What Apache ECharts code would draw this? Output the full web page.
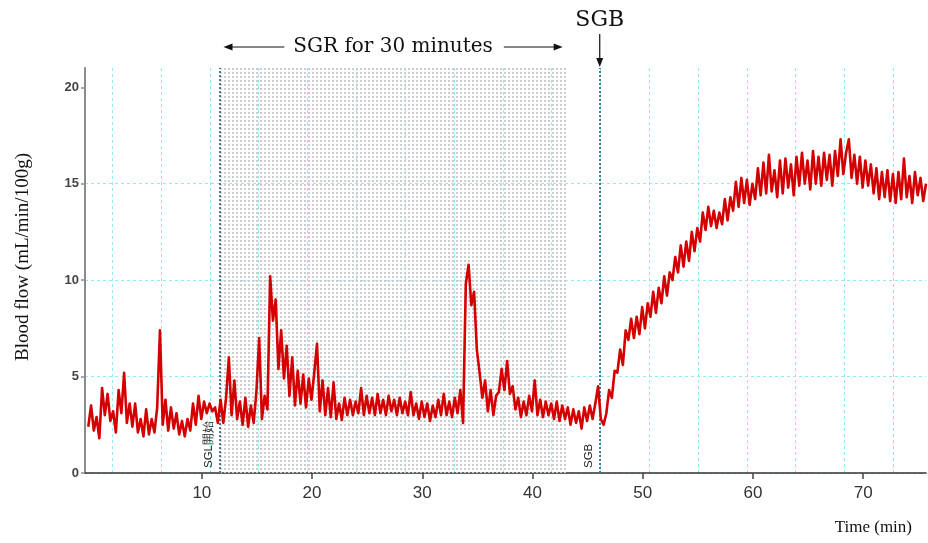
<!DOCTYPE html>
<html><head><meta charset="utf-8">
<script src="https://cdn.jsdelivr.net/npm/echarts@6/dist/echarts.min.js"></script>
<style>html,body{margin:0;padding:0;background:#fff}#c{width:928px;height:543px}</style>
</head><body><div id="c"></div>
<script>
// sampling of the recorded trace (minutes)
const startMin = -0.3;
const stepMin = 0.25;

// blood flow (mL/min/100g)
const flowPre = [2.4,3.5,2.2,2.9,1.8,4.4,3.0,4.1,2.7,3.2,
 2.1,4.3,3.1,5.2,2.6,3.6,2.4,3.6,2.1,2.8,
 1.9,3.3,2.0,2.8,2.1,3.4,7.4,2.5,3.8,2.2,
 3.4,2.3,3.1,2.0,2.7,1.9,2.8,2.2,3.6,2.5,
 4.0,2.8,3.7,3.1,3.6,3.2,3.4,2.6];
const flowSGR = [3.8,2.6,3.9,6.0,3.0,4.8,2.8,3.7,2.5,3.9,
 2.4,3.5,2.6,4.2,7.0,2.8,4.0,3.3,10.2,7.9,
 9.0,5.4,7.4,4.9,6.6,4.0,6.0,3.5,5.3,3.6,
 5.1,3.4,4.9,3.8,5.2,6.7,3.2,4.8,3.0,4.4,
 2.9,4.7,2.8,3.6,2.75,3.9,3.0,3.8,3.0,3.7,
 3.1,4.4,3.0,4.0,3.1,3.9,3.0,4.1,3.1,3.8,
 3.0,4.0,3.2,3.8,3.0,3.9,3.1,3.7,3.0,4.2,
 3.0,3.6,2.8,3.7,2.9,3.6,2.7,3.5,2.9,3.8,
 3.0,4.1,3.0,3.7,2.9,3.9,3.1,4.3,2.6,9.8,
 10.8,8.7,9.4,6.4,5.2,3.9,4.8,3.2,4.3,3.0,
 4.0,4.2,5.4,4.3,5.8,4.1,4.5,3.3,3.9,2.9,
 3.7,3.0,4.0,3.2,4.8,3.0,3.8,2.9,3.7,3.0,
 3.6,2.8,3.7,2.7,3.5,2.8,3.4];
const flowBeforeSGB = [2.5,3.3,2.6,3.2,2.3,3.4,2.7,3.5,2.8,3.6];
const flowPostSGB = [4.5,2.8,2.5,3.1,4.3,3.9,5.3,5.2,6.4,5.6,
 7.4,6.9,8.0,7.0,8.1,7.2,8.6,7.5,8.8,8.1,
 9.4,8.3,9.6,8.8,10.2,9.2,10.4,10.0,11.2,10.4,
 11.8,10.7,12.0,11.0,12.5,11.5,12.7,12.0,13.5,12.6,
 13.8,12.8,13.6,12.7,13.5,12.9,14.2,13.1,14.3,13.6,
 15.1,13.8,15.3,14.0,15.2,13.9,15.0,14.2,15.8,14.4,
 16.1,14.5,16.5,14.6,15.7,14.3,16.2,14.5,16.3,14.8,
 16.0,14.4,16.4,14.9,16.6,15.0,16.2,14.7,16.7,15.0,
 16.4,14.9,16.6,15.2,16.5,14.9,16.7,15.4,17.3,15.5,
 16.6,17.3,15.3,16.5,15.0,16.4,14.8,16.2,14.9,16.0,
 14.5,15.8,14.2,15.6,14.3,15.7,14.1,15.5,14.0,15.6,
 14.2,16.3,14.3,15.4,14.0,15.6,14.4,15.3,14.1,15.0];

const xTickLabels = [10,20,30,40,50,60,70];
const yTickLabels = [0,5,10,15,20];

// events (minutes)
const sgrStart = 11.6;
const sgrEnd = 43.1;
const sgbTime = 46.1;

const sglLabel = 'SGL開始';
const sgbLabel = 'SGB';
const sgrTitle = 'SGR for 30 minutes';
const yName = 'Blood flow (mL/min/100g)';
const xName = 'Time (min)';

const flow = [].concat(flowPre, flowSGR, flowBeforeSGB, flowPostSGB);
const lineData = flow.map((v, i) => [+(startMin + i * stepMin).toFixed(2), v]);

function hatchPattern() {
  const c = document.createElement('canvas');
  c.width = 4; c.height = 4;
  const g = c.getContext('2d');
  g.fillStyle = '#cdcdcd';
  g.fillRect(0, 0, 2, 2);
  return c;
}

const gridColor = '#8ceef4';
const chart = echarts.init(document.getElementById('c'), null, {renderer: 'canvas'});

const option = {
  animation: false,
  backgroundColor: '#fff',
  grid: [
    {left: 85, right: 2, top: 68, bottom: 70},
    // helper grid carrying the recorder's vertical gridlines (offset one division to the left)
    {left: 63.5, right: 2, top: 68, bottom: 70}
  ],
  xAxis: [{
    gridIndex: 0, type: 'value', min: -0.6, max: 75.7,
    axisLine: {show: true, onZero: false, lineStyle: {color: '#333', width: 1.5}},
    axisTick: {show: true, customValues: xTickLabels, length: 6, lineStyle: {color: '#444', width: 1.5}},
    axisLabel: {customValues: xTickLabels, fontSize: 17, color: '#333', margin: 12, fontFamily: 'Liberation Sans'},
    splitLine: {show: false}
  }, {
    gridIndex: 1, type: 'value', min: 0, max: 17.67, interval: 1,
    axisLine: {show: false}, axisTick: {show: false}, axisLabel: {show: false},
    splitLine: {show: true, showMinLine: false, showMaxLine: false, lineStyle: {color: gridColor, type: [3, 3], width: 1}}
  }],
  yAxis: [{
    gridIndex: 0, type: 'value', min: 0, max: 21, interval: 2.5,
    axisLine: {show: true, onZero: false, lineStyle: {color: '#8c8c8c', width: 2}},
    axisTick: {show: true, customValues: yTickLabels, length: 4, lineStyle: {color: '#8c8c8c', width: 1.5}},
    axisLabel: {customValues: yTickLabels, fontWeight: 'bold', fontSize: 13, color: '#444', margin: 6, fontFamily: 'Liberation Sans'},
    splitLine: {show: true, showMaxLine: false, lineStyle: {color: gridColor, type: [3, 3], width: 1}}
  }, {
    gridIndex: 1, type: 'value', min: 0, max: 21, show: false
  }],
  series: [{
    type: 'line', data: [], z: 1, silent: true, xAxisIndex: 0, yAxisIndex: 0,
    markArea: {silent: true, itemStyle: {color: {image: hatchPattern(), repeat: 'repeat'}},
      data: [[{xAxis: sgrStart}, {xAxis: sgrEnd}]]},
    markLine: {
      silent: true, symbol: ['none', 'none'],
      lineStyle: {type: 'dotted', color: '#4d7a88', width: 2},
      label: {position: 'insideStartTop', fontSize: 11.5, color: '#222', fontFamily: 'Liberation Sans'},
      data: [
        {xAxis: sgrStart, label: {formatter: sglLabel}},
        {xAxis: sgbTime, label: {formatter: sgbLabel}}
      ]
    }
  }, {
    type: 'line', data: lineData, xAxisIndex: 0, yAxisIndex: 0, symbol: 'none', showSymbol: false, z: 5,
    lineStyle: {color: '#d40000', width: 2.6, join: 'round'}
  }]
};
chart.setOption(option);

const px = v => chart.convertToPixel({xAxisIndex: 0}, v);
const x1 = px(sgrStart), x2 = px(sgrEnd), xb = px(sgbTime);
const ctx = document.createElement('canvas').getContext('2d');
const titleFont = '20px "DejaVu Serif"';
ctx.font = titleFont;
const tw = ctx.measureText(sgrTitle).width;
const cx = (x1 + x2) / 2, ty = 47;
const ink = '#111';
const tri = (pts) => ({type: 'polygon', shape: {points: pts}, style: {fill: ink}});
chart.setOption({
  graphic: [
    {type: 'text', x: cx, y: ty, style: {text: sgrTitle, font: titleFont, fill: ink, align: 'center', verticalAlign: 'middle'}},
    {type: 'line', shape: {x1: cx - tw / 2 - 9, y1: ty, x2: x1 + 12, y2: ty}, style: {stroke: ink, lineWidth: 1.2}},
    tri([[x1 + 4, ty], [x1 + 13, ty - 3.5], [x1 + 13, ty + 3.5]]),
    {type: 'line', shape: {x1: cx + tw / 2 + 11, y1: ty, x2: x2 - 12, y2: ty}, style: {stroke: ink, lineWidth: 1.2}},
    tri([[x2 - 4, ty], [x2 - 13, ty - 3.5], [x2 - 13, ty + 3.5]]),
    {type: 'text', x: xb, y: 20, style: {text: sgbLabel, font: '22px "DejaVu Serif"', fill: ink, align: 'center', verticalAlign: 'middle'}},
    {type: 'line', shape: {x1: xb, y1: 34, x2: xb, y2: 60}, style: {stroke: ink, lineWidth: 1.2}},
    tri([[xb, 67], [xb - 3.5, 58], [xb + 3.5, 58]]),
    {type: 'text', x: 23, y: 257, rotation: Math.PI / 2, style: {text: yName, font: '19px "Liberation Serif"', fill: ink, align: 'center', verticalAlign: 'middle'}},
    {type: 'text', x: 912, y: 528, style: {text: xName, font: '17px "Liberation Serif"', fill: ink, align: 'right', verticalAlign: 'middle'}}
  ]
});
</script>
</body></html>
